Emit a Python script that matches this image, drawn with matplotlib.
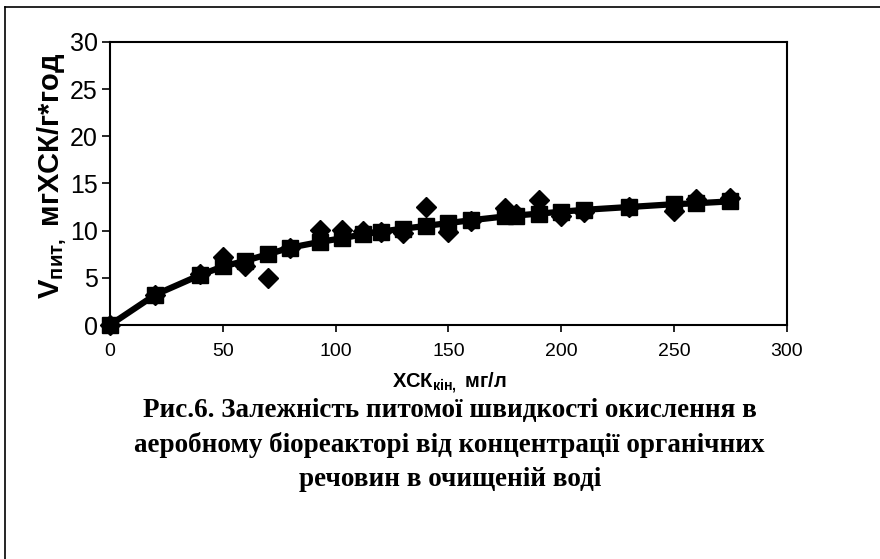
import matplotlib
matplotlib.use("Agg")
import matplotlib.pyplot as plt
from matplotlib.lines import Line2D

plt.rcParams['font.family'] = ['Liberation Sans', 'DejaVu Sans']
plt.rcParams['mathtext.fontset'] = 'custom'
plt.rcParams['mathtext.rm'] = 'Liberation Sans:bold'
plt.rcParams['mathtext.it'] = 'Liberation Sans:bold'
plt.rcParams['mathtext.bf'] = 'Liberation Sans:bold'

# Експериментальні точки (ромби)
xck_dosl = [0, 20, 40, 50, 60, 70, 80, 93, 103, 112, 120, 130, 140, 150, 160,
            175, 180, 190, 200, 210, 230, 250, 260, 275]
v_dosl = [0, 3.2, 5.4, 7.2, 6.3, 5.0, 8.2, 10.1, 10.1, 10.0, 9.9, 9.7, 12.5, 9.9, 11.0,
          12.4, 11.8, 13.2, 11.6, 12.0, 12.5, 12.1, 13.4, 13.5]

# Розрахункова крива (квадрати з лінією)
xck_rozr = [0, 20, 40, 50, 60, 70, 80, 93, 103, 112, 120, 130, 140, 150, 160,
            175, 180, 190, 200, 210, 230, 250, 260, 275]
v_rozr = [0, 3.2, 5.3, 6.2, 6.8, 7.5, 8.2, 8.8, 9.2, 9.6, 9.9, 10.2, 10.5, 10.8, 11.1,
          11.5, 11.6, 11.8, 12.0, 12.2, 12.5, 12.8, 12.9, 13.1]

x_ticks = [0, 50, 100, 150, 200, 250, 300]
y_ticks = [0, 5, 10, 15, 20, 25, 30]

pidpys = ["Рис.6. Залежність питомої швидкості окислення в",
          "аеробному біореакторі від концентрації органічних",
          "речовин в очищеній воді"]

fig = plt.figure(figsize=(8.8, 5.59), dpi=100)
ax = fig.add_axes([0.125, 0.4186, 0.769, 0.5065])

ax.plot(xck_dosl, v_dosl, linestyle='none', marker='D', markersize=10,
        color='black', zorder=3, clip_on=False)
ax.plot(xck_rozr, v_rozr, linestyle='-', linewidth=4.5, marker='s', markersize=11.5,
        color='black', zorder=4, clip_on=False)

ax.set_xlim(0, 300)
ax.set_ylim(0, 30)
ax.set_xticks(x_ticks)
ax.set_yticks(y_ticks)
ax.tick_params(axis='x', direction='out', length=5, width=1.2, labelsize=14, pad=8)
ax.tick_params(axis='y', direction='out', length=6, width=1.2, labelsize=18, pad=3)
for s in ax.spines.values():
    s.set_linewidth(1.5)

fig.text(0.060, 0.685, r"V$_{\mathrm{пит,}}$ мгХСК/г*год", rotation=90,
         ha='center', va='center', fontsize=21, fontweight='bold')
fig.text(0.511, 0.315, r"ХСК$_{\mathrm{кін,}}$ мг/л", ha='center', va='center',
         fontsize=14.5, fontweight='bold')

for i, rjadok in enumerate(pidpys):
    fig.text(0.511, 0.265 - i * 0.061, rjadok, ha='center', va='center',
             fontsize=19.5, fontweight='bold', family=['Liberation Serif', 'DejaVu Serif'])

# рамка діаграми
fig.add_artist(Line2D([0.0057, 1.0], [0.9875, 0.9875], transform=fig.transFigure,
                      color='black', linewidth=1.2))
fig.add_artist(Line2D([0.0057, 0.0057], [0.0, 0.9875], transform=fig.transFigure,
                      color='black', linewidth=1.2))

fig.savefig("out.png", dpi=100)
